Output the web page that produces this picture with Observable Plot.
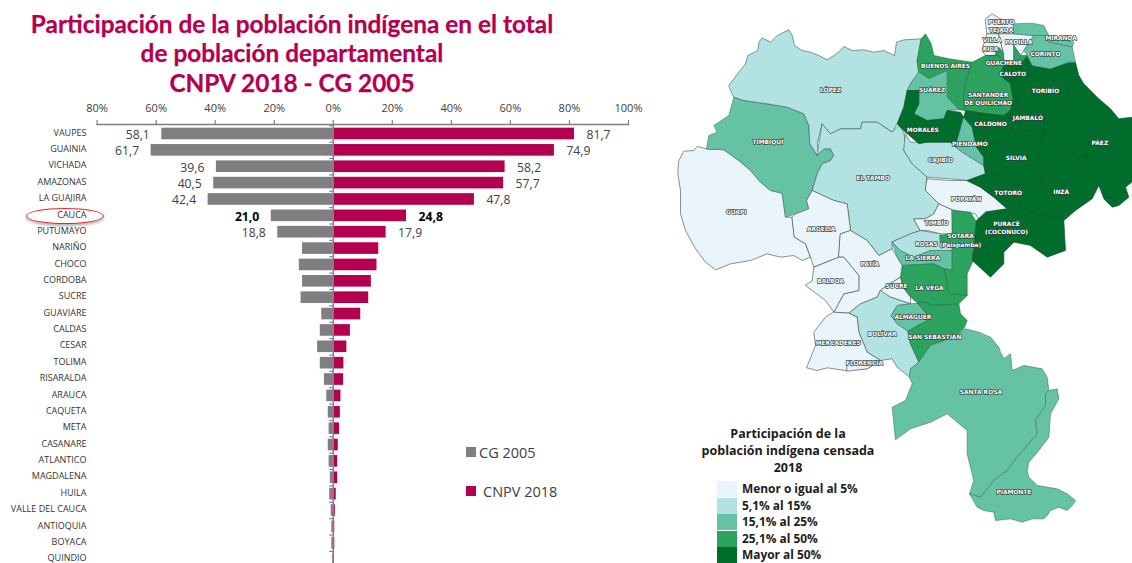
<!DOCTYPE html>
<html><head><meta charset="utf-8">
<script src="https://cdn.jsdelivr.net/npm/d3@7"></script>
<script src="https://cdn.jsdelivr.net/npm/@observablehq/plot@0.6"></script>
<style>
html,body{margin:0;padding:0;background:#fff;width:1132px;height:563px;overflow:hidden}
#page{position:relative;width:1132px;height:563px;overflow:hidden}
.abs{position:absolute;white-space:nowrap}
#title{left:0;top:8.5px;width:584px;text-align:center;font:700 24.4px/29.5px Lato,sans-serif;color:#b5004f;-webkit-text-stroke:.25px #b5004f}
.leg{font:14.5px "Open Sans",sans-serif;color:#404040}
.mleg{font:700 11.9px "Open Sans",sans-serif;color:#1c1c1c}
#mtitle{left:681px;top:425px;width:214px;text-align:center;font:700 12.5px/17px "Open Sans",sans-serif;color:#1c1c1c}
#ell{left:26px;top:207.5px;width:76px;height:14px;border:1.3px solid #e3262b;border-radius:50%;box-shadow:0 2px 3px rgba(0,0,0,.3)}
</style></head><body><div id="page"></div>
<script>
// ---------- bar chart data ----------
const departamentos=["VAUPES","GUAINIA","VICHADA","AMAZONAS","LA GUAJIRA","CAUCA","PUTUMAYO","NARIÑO","CHOCO","CORDOBA","SUCRE","GUAVIARE","CALDAS","CESAR","TOLIMA","RISARALDA","ARAUCA","CAQUETA","META","CASANARE","ATLANTICO","MAGDALENA","HUILA","VALLE DEL CAUCA","ANTIOQUIA","BOYACA","QUINDIO"];
const cg2005=[58.1,61.7,39.6,40.5,42.4,21.0,18.8,10.4,11.5,10.4,10.9,3.9,4.4,5.3,4.4,3.0,2.2,1.7,1.4,1.7,1.4,1.0,1.2,0.7,0.5,0.5,0.2];
const cnpv2018=[81.7,74.9,58.2,57.7,47.8,24.8,17.9,15.4,14.8,12.9,12.0,9.3,5.8,4.6,3.6,3.5,2.6,2.4,2.1,1.7,1.5,1.5,1.0,0.7,0.5,0.5,0.4];
const etiquetados=7, resaltado="CAUCA";
const axisTicks=[-80,-60,-40,-20,0,20,40,60,80,100];
const titleLines=["Participación de la población indígena en el total","de población departamental","CNPV 2018 - CG 2005"];
const barLegend=["CG 2005","CNPV 2018"];
const barColors=["#7f7f7f","#b5004f"];

// ---------- map data ----------
const classes=["Menor o igual al 5%","5,1% al 15%","15,1% al 25%","25,1% al 50%","Mayor al 50%"];
const classColors=["#e9f4fb","#b2e2e2","#66c2a4","#2ca25f","#006d2c"];
const classStrokes=["#3c4a45","#3c5a55","#3c7a65","#1d7040","#0a4f24"];
const mapTitle=["Participación de la","población indígena censada","2018"];
const municipios=[
{n:"GUAPI",c:0,r:[[25,480],[40,452],[70,450],[80,438],[108,445],[160,448],[205,480],[240,510],[270,545],[300,570],[335,578],[345,650],[365,650],[372,710],[405,730],[420,770],[395,780],[370,765],[330,770],[290,760],[240,780],[180,790],[135,808],[105,785],[75,745],[45,690],[30,640],[30,570],[22,520]]},
{n:"TIMBIQUI",c:2,r:[[108,445],[115,405],[140,395],[130,375],[175,345],[190,290],[220,300],[290,310],[350,320],[400,340],[415,375],[418,430],[440,465],[460,445],[480,445],[490,465],[480,480],[455,490],[440,520],[425,570],[408,600],[415,625],[375,640],[345,650],[335,578],[300,570],[270,545],[240,510],[205,480],[160,448]]},
{n:"LOPEZ",c:1,r:[[175,255],[190,235],[205,215],[225,190],[232,165],[262,150],[265,125],[275,112],[300,125],[320,105],[340,95],[355,88],[365,105],[372,135],[395,150],[420,155],[445,165],[470,178],[490,165],[510,150],[520,138],[545,150],[580,148],[610,155],[640,150],[672,165],[678,125],[700,118],[752,115],[740,180],[745,215],[720,250],[710,270],[700,320],[680,370],[665,395],[620,365],[575,365],[570,385],[510,385],[480,400],[455,370],[440,430],[445,460],[440,465],[418,430],[415,375],[400,340],[350,320],[290,310],[220,300],[190,290]]},
{n:"EL TAMBO",c:1,r:[[455,370],[480,400],[510,385],[570,385],[575,365],[620,365],[665,395],[685,375],[700,395],[705,430],[700,450],[725,490],[770,530],[765,570],[805,610],[790,640],[765,655],[730,655],[750,690],[720,700],[665,725],[665,745],[625,765],[590,720],[540,690],[530,610],[490,600],[425,570],[440,520],[455,490],[480,480],[490,465],[480,445],[460,445],[440,465],[445,430]]},
{n:"CAJIBIO",c:1,r:[[705,400],[720,425],[770,425],[840,425],[875,455],[940,495],[945,520],[890,540],[840,535],[770,530],[725,490],[700,450]]},
{n:"POPAYAN",c:0,r:[[770,535],[840,540],[890,540],[930,560],[970,590],[1010,625],[945,635],[940,680],[915,640],[845,628],[805,610],[765,570]]},
{n:"TIMBIO",c:0,r:[[730,655],[765,655],[790,640],[805,610],[845,628],[845,700],[810,700],[770,690],[750,690]]},
{n:"ROSAS",c:1,r:[[720,700],[750,690],[810,700],[808,725],[845,725],[845,750],[780,750],[730,770],[690,750],[665,725]]},
{n:"LA SIERRA",c:2,r:[[665,725],[690,750],[730,770],[780,750],[845,750],[845,808],[822,805],[790,790],[695,795],[680,770]]},
{n:"SOTARA",c:3,r:[[845,630],[900,635],[918,665],[905,755],[915,765],[890,820],[890,885],[840,880],[832,870],[822,805],[845,808],[845,725],[810,725],[808,705],[845,698]]},
{n:"LA VEGA",c:3,r:[[695,795],[790,790],[822,805],[832,870],[840,880],[890,885],[865,910],[790,915],[760,905],[742,908],[720,890],[697,860],[690,830]]},
{n:"ARGELIA",c:0,r:[[365,650],[375,640],[415,625],[408,600],[425,570],[490,600],[530,610],[540,690],[510,700],[505,770],[430,800],[420,770],[405,730],[372,710]]},
{n:"PATIA",c:0,r:[[510,700],[540,690],[590,720],[625,765],[665,745],[680,770],[695,795],[690,830],[650,855],[630,870],[620,890],[570,910],[535,938],[490,935],[520,880],[565,870],[565,825],[520,770],[505,770]]},
{n:"BALBOA",c:0,r:[[405,855],[465,900],[490,935],[520,880],[565,870],[565,825],[520,770],[505,770],[430,800],[425,840]]},
{n:"SUCRE",c:0,r:[[630,870],[650,855],[690,830],[697,860],[720,890],[720,910],[660,890]]},
{n:"BOLIVAR",c:1,r:[[630,870],[660,890],[720,910],[680,915],[662,945],[680,970],[712,992],[720,1030],[745,1085],[720,1105],[717,1130],[680,1100],[665,1075],[630,1080],[590,1055],[565,995],[560,950],[535,938],[570,910],[620,890]]},
{n:"MERCADERES",c:0,r:[[490,935],[535,938],[560,950],[565,995],[590,1055],[630,1080],[590,1105],[525,1110],[470,1102],[440,1110],[408,1102],[435,1035],[430,995],[465,950]]},
{n:"FLORENCIA",c:0,r:[[530,1090],[630,1080],[590,1105],[530,1112]]},
{n:"ALMAGUER",c:2,r:[[662,945],[680,915],[720,910],[742,908],[780,955],[712,992],[680,970]]},
{n:"SAN SEBASTIAN",c:3,r:[[742,908],[760,905],[790,915],[865,910],[870,940],[890,960],[880,985],[850,1010],[780,1035],[745,1085],[720,1030],[712,992],[780,955]]},
{n:"SANTA ROSA",c:2,r:[[717,1130],[720,1105],[745,1085],[780,1035],[850,1010],[885,985],[925,995],[960,1010],[985,1040],[990,1055],[1000,1075],[1020,1060],[1025,1110],[1060,1095],[1115,1105],[1130,1130],[1135,1170],[1125,1180],[1125,1215],[1095,1260],[1100,1300],[1040,1370],[1010,1410],[970,1440],[930,1490],[897,1480],[910,1440],[890,1360],[890,1290],[860,1265],[830,1240],[780,1265],[720,1285],[675,1318],[665,1220],[705,1200],[725,1150]]},
{n:"PIAMONTE",c:2,r:[[1135,1170],[1160,1165],[1165,1195],[1140,1240],[1135,1310],[1105,1350],[1075,1385],[1070,1410],[1075,1430],[1100,1455],[1160,1465],[1190,1480],[1215,1500],[1205,1515],[1190,1530],[1165,1520],[1140,1530],[1130,1545],[1120,1555],[1085,1555],[1055,1565],[1020,1555],[975,1560],[970,1535],[940,1530],[920,1520],[897,1480],[930,1490],[970,1440],[1010,1410],[1040,1370],[1100,1300],[1095,1260],[1125,1215],[1125,1180]]},
{n:"BUENOS AIRES",c:3,r:[[740,180],[752,115],[765,100],[782,130],[790,165],[835,175],[905,185],[885,250],[878,300],[885,330],[865,328],[830,290],[830,210],[775,235],[745,215]]},
{n:"SUAREZ",c:2,r:[[745,215],[775,235],[830,210],[830,290],[865,328],[830,330],[820,355],[770,360],[730,340],[745,310],[745,270],[710,270],[720,250]]},
{n:"MORALES",c:4,r:[[680,370],[700,320],[710,270],[745,270],[745,310],[730,340],[770,360],[820,355],[830,330],[870,335],[880,350],[855,440],[840,425],[770,425],[745,430],[705,395]]},
{n:"PIENDAMO",c:2,r:[[880,350],[905,380],[918,440],[940,470],[940,495],[875,455],[855,440]]},
{n:"SANTANDER DE QUILICHAO",c:3,r:[[905,185],[945,165],[985,165],[1005,195],[990,225],[1020,250],[1028,295],[1020,330],[1000,345],[950,340],[885,330],[878,300],[885,250]]},
{n:"CALDONO",c:4,r:[[880,350],[885,330],[950,340],[1000,345],[1020,330],[1030,390],[1020,395],[1010,425],[945,430],[918,440],[905,380]]},
{n:"CALOTO",c:4,r:[[1000,195],[1055,185],[1070,165],[1085,195],[1070,240],[1040,260],[1045,320],[1020,330],[1028,295],[1020,250],[990,225]]},
{n:"TORIBIO",c:4,r:[[1085,195],[1140,205],[1195,185],[1215,185],[1225,225],[1200,270],[1170,320],[1120,340],[1065,340],[1045,320],[1040,260],[1070,240]]},
{n:"JAMBALO",c:4,r:[[1020,330],[1045,320],[1065,340],[1120,340],[1120,400],[1070,390],[1030,390]]},
{n:"PAEZ",c:4,r:[[1225,225],[1240,250],[1280,290],[1320,325],[1345,355],[1385,350],[1390,540],[1365,560],[1375,590],[1345,615],[1325,620],[1300,595],[1285,555],[1240,490],[1250,465],[1200,460],[1155,480],[1105,475],[1100,450],[1120,400],[1120,340],[1170,320],[1200,270]]},
{n:"SILVIA",c:4,r:[[1030,390],[1070,390],[1120,400],[1100,450],[1105,475],[1155,480],[1115,510],[1110,545],[1050,555],[1030,550],[985,520],[945,520],[940,495],[940,470],[918,440],[945,430],[1010,425],[1020,395]]},
{n:"TOTORO",c:4,r:[[890,540],[945,520],[985,520],[1030,550],[1050,555],[1050,620],[1010,625],[970,590],[930,560]]},
{n:"INZA",c:4,r:[[1155,480],[1200,460],[1250,465],[1240,490],[1285,555],[1265,595],[1215,630],[1180,660],[1120,640],[1095,640],[1050,620],[1050,555],[1110,545],[1115,510]]},
{n:"PURACE",c:4,r:[[1010,625],[1050,620],[1095,640],[1120,640],[1180,660],[1185,750],[1130,770],[1080,735],[1030,725],[1000,755],[1000,790],[960,830],[905,780],[918,660],[945,635]]},
{n:"PUERTO TEJADA",c:0,r:[[945,55],[965,40],[990,55],[1030,70],[1030,100],[985,100],[950,100]]},
{n:"VILLA RICA",c:0,r:[[950,100],[985,100],[998,155],[975,165],[945,165],[935,150]]},
{n:"PADILLA",c:0,r:[[985,100],[1030,100],[1090,105],[1060,150],[1050,165],[1030,135],[1030,180],[1000,180],[998,155]]},
{n:"GUACHENE",c:3,r:[[945,165],[975,165],[975,150],[985,140],[998,155],[1000,180],[1030,180],[1030,135],[1050,165],[1070,165],[1055,185],[1005,195],[985,165]]},
{n:"MIRANDA",c:2,r:[[1030,70],[1085,68],[1120,75],[1135,105],[1210,125],[1205,140],[1135,125],[1120,105],[1090,105],[1030,100]]},
{n:"CORINTO",c:2,r:[[1060,150],[1090,105],[1120,105],[1135,125],[1205,140],[1215,185],[1195,185],[1140,205],[1085,195],[1070,165]]}
];
const mapLabels=[["LÓPEZ",480,270],["TIMBIQUÍ",292,425],["GUAPI",197,635],["EL TAMBO",608,534],["ARGELIA",452,686],["PATÍA",598,792],["BALBOA",480,842],["MORALES",757,388],["SUÁREZ",785,269],["BUENOS AIRES",825,198],["SANTANDER",953,284],["DE QUILICHAO",953,308],["CALDONO",960,370],["JAMBALÓ",1072,353],["CALOTO",1027,221],["TORIBÍO",1125,271],["GUACHENÉ",1000,188],["CORINTO",1125,160],["MIRANDA",1172,113],["PADILLA",1045,124],["PUERTO",992,64],["TEJADA",992,89],["VILLA",965,120],["RICA",960,147],["PIENDAMÓ",898,430],["CAJIBÍO",810,479],["SILVIA",1037,474],["PÁEZ",1288,429],["TOTORÓ",1013,578],["INZÁ",1172,576],["POPAYÁN",887,595],["PURACÉ",1008,672],["(COCONUCO)",1008,696],["TIMBÍO",798,667],["SOTARÁ",870,708],["(Paispamba)",870,735],["ROSAS",768,730],["LA SIERRA",757,773],["SUCRE",678,858],["LA VEGA",777,864],["ALMAGUER",727,950],["BOLÍVAR",635,1000],["MERCADERES",503,1028],["SAN SEBASTIÁN",793,1010],["FLORENCIA",582,1087],["SANTA ROSA",931,1174],["PIAMONTE",1030,1476]];

// ---------- build ----------
const page=document.getElementById("page");
function add(cls,id,css,txt){const e=document.createElement("div");e.className="abs "+cls;if(id)e.id=id;if(css)e.style.cssText=css;if(txt!=null)e.innerHTML=txt;page.appendChild(e);return e;}
add("","title","",titleLines.join("<br>"));

const rows=departamentos.map((d,i)=>({d,a:cg2005[i],b:cnpv2018[i],i}));
const fmt=v=>v.toFixed(1).replace(".",",");
const labelled=rows.filter(r=>r.i<etiquetados&&r.d!==resaltado);
const boldRows=rows.filter(r=>r.d===resaltado);
const valueFont={fontFamily:"Open Sans",fontSize:12.2};
const barsPlot=Plot.plot({
  width:640,height:563,marginTop:124,marginBottom:0,marginLeft:96.6,marginRight:12,
  style:{background:"transparent",overflow:"visible"},
  x:{domain:[-80,100]},
  y:{domain:departamentos,range:[125.3,567.3],paddingInner:0.29,paddingOuter:0.145,axis:null,round:false},
  marks:[
    Plot.barX(rows,{y:"d",x1:0,x2:r=>-r.a,fill:barColors[0]}),
    Plot.barX(rows,{y:"d",x1:0,x2:"b",fill:barColors[1]}),
    Plot.ruleX([0],{stroke:"#7f7f7f",strokeWidth:1.5}),
    Plot.ruleY(departamentos,{y:d=>d,x1:-1.2,x2:0,dy:-8.2,stroke:"#7f7f7f",strokeWidth:1.2}),
    Plot.frame({anchor:"top",stroke:"#7f7f7f",strokeWidth:1.5}),
    Plot.axisX({anchor:"top",ticks:axisTicks,tickFormat:d=>Math.abs(d)+"%",label:null,tickSize:5,tickPadding:8,stroke:"#7f7f7f",strokeWidth:1.2,fontSize:11,fontFamily:"Open Sans",color:"#404040"}),
    Plot.text(departamentos,{y:d=>d,x:-80,dx:-10.6,dy:-1.2,text:d=>d,textAnchor:"end",fontFamily:"Open Sans",fontSize:9,fill:"#333"}),
    Plot.text(labelled,{y:"d",x:r=>-r.a,dx:-12,dy:1,text:r=>fmt(r.a),textAnchor:"end",fill:"#404040",...valueFont}),
    Plot.text(labelled,{y:"d",x:"b",dx:12,dy:1,text:r=>fmt(r.b),textAnchor:"start",fill:"#404040",...valueFont}),
    Plot.text(boldRows,{y:"d",x:r=>-r.a,dx:-12,dy:1,text:r=>fmt(r.a),textAnchor:"end",fontWeight:"bold",fill:"#000",...valueFont}),
    Plot.text(boldRows,{y:"d",x:"b",dx:12,dy:1,text:r=>fmt(r.b),textAnchor:"start",fontWeight:"bold",fill:"#000",...valueFont})
  ]
});
barsPlot.style.position="absolute";barsPlot.style.left="0";barsPlot.style.top="0";
page.appendChild(barsPlot);

add("","ell");
add("","","left:466px;top:447px;width:10px;height:10px;background:"+barColors[0]);
add("leg","","left:479px;top:442.5px",barLegend[0]);
add("","","left:466px;top:486px;width:10px;height:10px;background:"+barColors[1]);
add("leg","","left:483px;top:481.5px",barLegend[1]);

const features=municipios.map(m=>({type:"Feature",properties:{name:m.n,cls:m.c},geometry:{type:"Polygon",coordinates:[[...m.r,m.r[0]]]}}));
const mapPlot=Plot.plot({
  width:462,height:563,margin:0,
  style:{background:"transparent"},
  projection:()=>d3.geoTransform({point(x,y){this.stream.point(x/3,y/3);}}),
  marks:[
    Plot.geo(features,{fill:d=>classColors[d.properties.cls],stroke:d=>classStrokes[d.properties.cls],strokeWidth:0.6}),
    Plot.text(mapLabels,{x:d=>d[1],y:d=>d[2],text:d=>d[0],fill:"#fff",stroke:"#2f3f3a",strokeWidth:1.3,paintOrder:"stroke",fontFamily:"DejaVu Sans",fontWeight:"bold",fontSize:5.9})
  ]
});
mapPlot.style.position="absolute";mapPlot.style.left="670px";mapPlot.style.top="0";
page.appendChild(mapPlot);

add("","mtitle","",mapTitle.join("<br>"));
classes.forEach((c,i)=>{
  add("","","left:717px;top:"+(481+i*16.5)+"px;width:20px;height:16px;background:"+classColors[i]);
  add("mleg","","left:742px;top:"+(480+i*16.5)+"px",c);
});
</script></body></html>
